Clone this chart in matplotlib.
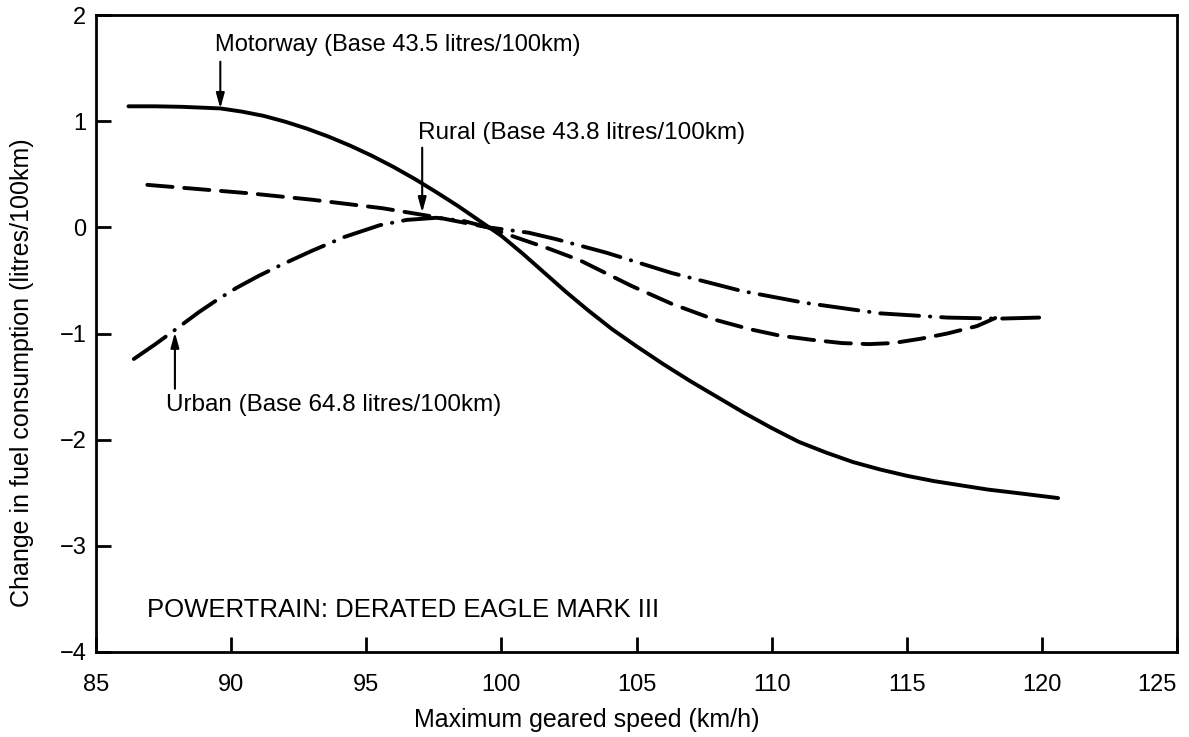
import matplotlib
matplotlib.use("Agg")
import matplotlib.pyplot as plt

plt.rcParams['font.family'] = ['Liberation Sans', 'DejaVu Sans']

# Motorway (solid)
motorway_x = [86.2, 87.2, 88.2, 89.6, 90.4, 91.2, 92.0, 92.8, 93.6, 94.4, 95.2, 96.0,
              96.8, 97.6, 98.4, 99.2, 100.0, 100.8, 101.6, 102.4, 103.2, 104.1,
              105.0, 106.0, 107.0, 108.0, 109.0, 110.0, 111.0, 112.0, 113.0, 114.0,
              115.0, 116.0, 117.0, 118.0, 119.0, 120.6]
motorway_y = [1.14, 1.14, 1.135, 1.12, 1.09, 1.05, 0.995, 0.93, 0.855, 0.77, 0.675, 0.57,
              0.455, 0.33, 0.20, 0.06, -0.08, -0.25, -0.43, -0.61, -0.78, -0.96,
              -1.12, -1.29, -1.45, -1.60, -1.75, -1.89, -2.02, -2.12, -2.21, -2.28,
              -2.34, -2.39, -2.43, -2.47, -2.50, -2.55]

# Rural (dashed)
rural_x = [86.9, 88.8, 90.7, 93.0, 95.6, 97.5, 99.5, 100.6, 101.75, 102.9, 104.8,
           106.3, 107.9, 109.2, 110.3, 111.5, 112.6, 113.6, 114.5, 115.5, 116.5,
           117.6, 118.4]
rural_y = [0.40, 0.36, 0.32, 0.26, 0.18, 0.10, 0.00, -0.10, -0.20, -0.31, -0.55,
           -0.72, -0.87, -0.96, -1.02, -1.06, -1.09, -1.10, -1.09, -1.05, -1.00,
           -0.93, -0.84]

# Urban (dash-dot)
urban_x = [86.4, 87.2, 87.9, 88.8, 89.5, 90.2, 91.0, 91.8, 93.0, 94.2, 95.5, 96.5,
           97.6, 98.6, 99.5, 101.0, 102.0, 103.9, 106.3, 108.9, 111.2, 114.0,
           116.5, 118.4, 119.9]
urban_y = [-1.24, -1.10, -0.97, -0.80, -0.68, -0.57, -0.46, -0.36, -0.22, -0.09, 0.02,
           0.07, 0.09, 0.06, 0.00, -0.05, -0.11, -0.24, -0.43, -0.60, -0.71, -0.81,
           -0.85, -0.86, -0.85]

xticks = [85, 90, 95, 100, 105, 110, 115, 120, 125]
yticks = [-4, -3, -2, -1, 0, 1, 2]

W, H = 1189, 737
fig = plt.figure(figsize=(W / 100, H / 100), dpi=100)
left, right, top, bottom = 96, 1177, 15, 652
ax = fig.add_axes([left / W, 1 - bottom / H, (right - left) / W, (bottom - top) / H])

lw = 2.8
ax.plot(motorway_x, motorway_y, color='black', lw=lw, solid_capstyle='round',
        solid_joinstyle='round')
ax.plot(rural_x, rural_y, color='black', lw=lw, linestyle=(0, (6.5, 3.0)),
        dash_capstyle='round')
ax.plot(urban_x, urban_y, color='black', lw=lw, linestyle=(0, (10, 2.8, 0.1, 2.8)),
        dash_capstyle='round')

ax.set_xlim(85, 125)
ax.set_ylim(-4, 2)
ax.set_xticks(xticks)
ax.set_yticks(yticks)
ax.tick_params(direction='in', length=11, width=2, labelsize=17, top=False, right=False)
ax.tick_params(axis='x', pad=16)
ax.tick_params(axis='y', pad=7)
ax.xaxis.get_major_ticks()[-1].label1.set_horizontalalignment('right')
for s in ax.spines.values():
    s.set_linewidth(2)

fig.text(587 / W, 1 - 720 / H, 'Maximum geared speed (km/h)', fontsize=18,
         ha='center', va='center')
fig.text(22 / W, 1 - 373 / H, 'Change in fuel consumption (litres/100km)', fontsize=18,
         ha='center', va='center', rotation=90)

arrowprops = dict(arrowstyle='-|>,head_length=0.9,head_width=0.25', color='black', lw=1.5,
                  shrinkA=0, shrinkB=0)
ax.text(89.4, 1.72, 'Motorway (Base 43.5 litres/100km)', fontsize=17, va='center', ha='left')
ax.annotate('', xy=(89.6, 1.12), xytext=(89.6, 1.56), arrowprops=arrowprops)

ax.text(96.9, 0.885, 'Rural (Base 43.8 litres/100km)', fontsize=17.5, va='center', ha='left')
ax.annotate('', xy=(97.07, 0.14), xytext=(97.07, 0.75), arrowprops=arrowprops)

ax.text(87.58, -1.67, 'Urban (Base 64.8 litres/100km)', fontsize=17.5, va='center', ha='left')
ax.annotate('', xy=(87.92, -0.99), xytext=(87.92, -1.52), arrowprops=arrowprops)

ax.text(86.9, -3.60, 'POWERTRAIN: DERATED EAGLE MARK III', fontsize=18.5, va='center',
        ha='left')

fig.savefig('out.png', dpi=100)
